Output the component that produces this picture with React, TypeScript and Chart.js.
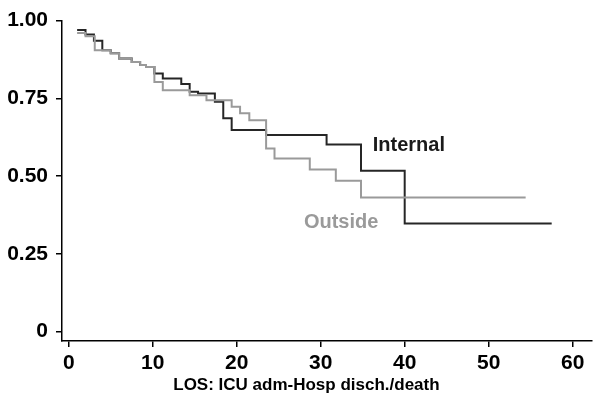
import React, { useEffect, useRef } from "react";
import { Chart, registerables } from "chart.js";

Chart.register(...registerables);

// Kaplan-Meier step data (time, survival after the step)
const internalTimes = [1, 2, 3, 4, 5, 6, 7.5, 8.5, 9.2, 10.2, 11.2, 13.4, 14.4, 15.4, 17.4, 18.4, 19.4, 23.5, 30.7, 34.8, 40, 57.5];
const internalSurv = [0.97, 0.955, 0.935, 0.905, 0.895, 0.878, 0.867, 0.857, 0.851, 0.83, 0.814, 0.796, 0.771, 0.766, 0.739, 0.686, 0.648, 0.632, 0.602, 0.517, 0.348, 0.348];

const outsideTimes = [1, 2, 3.1, 5, 6, 7.5, 8.5, 9.2, 10.2, 11.2, 14.4, 16.4, 19.4, 20.4, 21.5, 23.5, 24.5, 28.7, 31.8, 34.8, 54.4];
const outsideSurv = [0.96, 0.95, 0.905, 0.895, 0.878, 0.867, 0.857, 0.851, 0.803, 0.776, 0.76, 0.744, 0.723, 0.702, 0.68, 0.589, 0.557, 0.521, 0.485, 0.431, 0.431];

const xTicks = [0, 10, 20, 30, 40, 50, 60];
const yTicks = [0, 0.25, 0.5, 0.75, 1];
const xTitle = "LOS: ICU adm-Hosp disch./death";
const xTitleCenter = 28.3;

const labels = [
  { text: "Internal", x: 36.2, y: 0.6, color: "#1a1a1a" },
  { text: "Outside", x: 28, y: 0.35, color: "#9a9a9a" },
];

const FONT = "'Liberation Sans', Arial, Helvetica, sans-serif";

export default function App() {
  const ref = useRef<HTMLCanvasElement | null>(null);
  useEffect(() => {
    document.body.style.margin = "0";
    const canvas = ref.current!;
    const labelPlugin = {
      id: "kmLabels",
      afterDatasetsDraw(chart: any) {
        const { ctx, scales, chartArea } = chart;
        ctx.save();
        ctx.font = `bold 20px ${FONT}`;
        ctx.textBaseline = "middle";
        ctx.textAlign = "left";
        for (const l of labels) {
          ctx.fillStyle = l.color;
          ctx.fillText(l.text, scales.x.getPixelForValue(l.x), scales.y.getPixelForValue(l.y));
        }
        ctx.font = `bold 17px ${FONT}`;
        ctx.fillStyle = "#000";
        ctx.textAlign = "center";
        ctx.fillText(xTitle, scales.x.getPixelForValue(xTitleCenter), chartArea.bottom + 44);
        ctx.restore();
      },
    };
    const chart = new Chart(canvas, {
      type: "line",
      data: {
        datasets: [
          {
            label: "Outside",
            data: outsideTimes.map((t, i) => ({ x: t, y: outsideSurv[i] })),
            borderColor: "#9a9a9a",
            borderWidth: 2,
            pointRadius: 0,
            stepped: "before",
            fill: false,
          },
          {
            label: "Internal",
            data: internalTimes.map((t, i) => ({ x: t, y: internalSurv[i] })),
            borderColor: "#262626",
            borderWidth: 2,
            pointRadius: 0,
            stepped: "before",
            fill: false,
          },
        ],
      },
      options: {
        animation: false,
        responsive: false,
        layout: { padding: { top: 20, right: 8, left: 0, bottom: 0 } },
        plugins: { legend: { display: false }, tooltip: { enabled: false } },
        scales: {
          x: {
            type: "linear",
            min: -0.8,
            max: 62.3,
            afterBuildTicks: (s: any) => { s.ticks = xTicks.map((v) => ({ value: v })); },
            afterFit: (s: any) => { s.height = 62; },
            border: { display: true, color: "#000", width: 1.5 },
            grid: { drawOnChartArea: false, drawTicks: true, tickLength: 6, color: "#000", lineWidth: 1.5 },
            ticks: { color: "#000", font: { family: FONT, size: 21, weight: "bold" }, padding: 4, maxRotation: 0 },
          },
          y: {
            type: "linear",
            min: -0.03,
            max: 1.0,
            afterBuildTicks: (s: any) => { s.ticks = yTicks.map((v) => ({ value: v })); },
            afterFit: (s: any) => { s.width = 62; },
            border: { display: true, color: "#000", width: 1.5 },
            grid: { drawOnChartArea: false, drawTicks: true, tickLength: 6, color: "#000", lineWidth: 1.5 },
            ticks: {
              color: "#000",
              font: { family: FONT, size: 21, weight: "bold" },
              padding: 8,
              callback: (v: any) => (v === 0 ? "0" : Number(v).toFixed(2)),
            },
          },
        },
      },
      plugins: [labelPlugin],
    });
    return () => chart.destroy();
  }, []);
  return <canvas ref={ref} width={600} height={403} style={{ display: "block" }} />;
}
